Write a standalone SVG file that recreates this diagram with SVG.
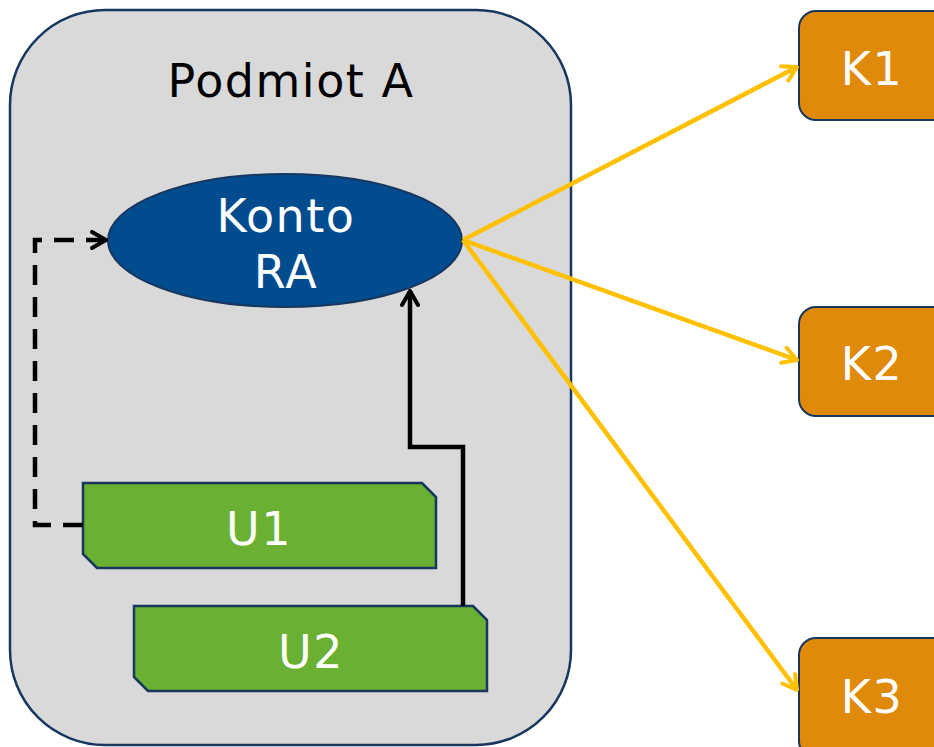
<svg xmlns="http://www.w3.org/2000/svg" width="934" height="747" viewBox="0 0 934 747">
<style>
.lbl{font-family:"DejaVu Sans","Liberation Sans",sans-serif;font-size:46px;letter-spacing:1.5px;text-anchor:middle}
.w{fill:#ffffff}
.k{fill:#e08a0c;stroke:#17375e;stroke-width:2}
.u{fill:#6ab033;stroke:#17375e;stroke-width:2.5}
.y{stroke:#ffc000;stroke-width:4.5;fill:none}
</style>
<defs>
<marker id="ay" viewBox="0 0 20 20" refX="18" refY="10" markerWidth="20" markerHeight="20" markerUnits="userSpaceOnUse" orient="auto">
<polyline points="4,2 18,10 4,18" fill="none" stroke="#ffc000" stroke-width="4" stroke-linecap="round" stroke-linejoin="round"/>
</marker>
<marker id="ab" viewBox="0 0 20 20" refX="18" refY="10" markerWidth="20" markerHeight="20" markerUnits="userSpaceOnUse" orient="auto">
<polyline points="4,2 18,10 4,18" fill="none" stroke="#000" stroke-width="4" stroke-linecap="round" stroke-linejoin="round"/>
</marker>
</defs>
<rect width="934" height="747" fill="#ffffff"/>
<g id="podmiot">
<rect x="10" y="10" width="561" height="735" rx="95" ry="95" fill="#d9d9d9" stroke="#17375e" stroke-width="2.5"/>
<text class="lbl" x="291" y="97" fill="#000">Podmiot A</text>
</g>
<g id="konto">
<ellipse cx="285" cy="240.5" rx="177" ry="66.5" fill="#004c8f" stroke="#17375e" stroke-width="2"/>
<text class="lbl w" x="286" y="232">Konto</text>
<text class="lbl w" x="286" y="288">RA</text>
</g>
<g id="u1">
<polygon class="u" points="83,483 422,483 436,497 436,568 97,568 83,554"/>
<text class="lbl w" x="259" y="545">U1</text>
</g>
<g id="u2">
<polygon class="u" points="134,606 473,606 487,620 487,691 148,691 134,677"/>
<text class="lbl w" x="311" y="668">U2</text>
</g>
<g id="k1">
<rect class="k" x="799" y="11" width="150" height="109" rx="17"/>
<text class="lbl w" x="872" y="85">K1</text>
</g>
<g id="k2">
<rect class="k" x="799" y="307" width="150" height="109" rx="17"/>
<text class="lbl w" x="872" y="380">K2</text>
</g>
<g id="k3">
<rect class="k" x="799" y="638" width="150" height="120" rx="17"/>
<text class="lbl w" x="872" y="713">K3</text>
</g>
<g id="connectors">
<path d="M463,240 L797,67" class="y" marker-end="url(#ay)"/>
<path d="M463,240 L797,360" class="y" marker-end="url(#ay)"/>
<path d="M463,240 L797,690" class="y" marker-end="url(#ay)"/>
<path d="M83,525 L35,525 L35,240 L106,240" fill="none" stroke="#000" stroke-width="4.5" stroke-dasharray="20 12" marker-end="url(#ab)"/>
<path d="M463,606 L463,447 L410,447 L410,291" fill="none" stroke="#000" stroke-width="4.5" marker-end="url(#ab)"/>
</g>
</svg>
